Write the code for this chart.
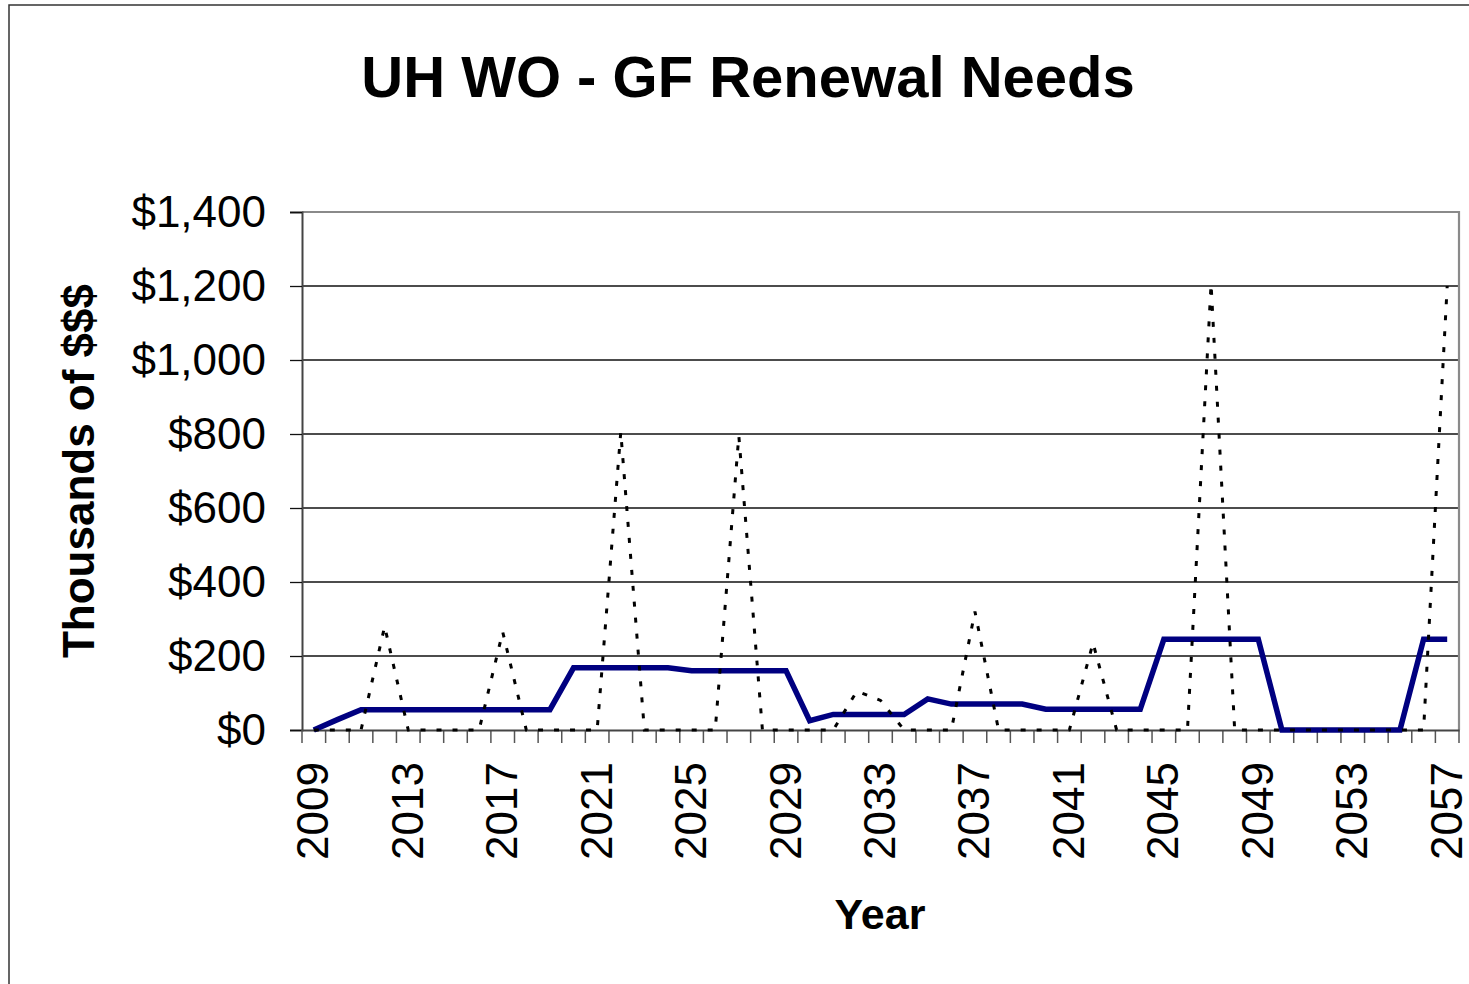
<!DOCTYPE html>
<html>
<head>
<meta charset="utf-8">
<script src="https://cdn.jsdelivr.net/npm/d3@7"></script>
<style>
  body { margin: 0; background: #fff; }
  #chart-area { width: 1469px; height: 984px; }
  text { font-family: "Liberation Sans", Arial, sans-serif; fill: #000; }
</style>
</head>
<body>
<div id="chart-area"></div>
<script>
// categories (one per year)
const years = [
  2009, 2010, 2011, 2012, 2013, 2014, 2015, 2016, 2017, 2018,
  2019, 2020, 2021, 2022, 2023, 2024, 2025, 2026, 2027, 2028,
  2029, 2030, 2031, 2032, 2033, 2034, 2035, 2036, 2037, 2038,
  2039, 2040, 2041, 2042, 2043, 2044, 2045, 2046, 2047, 2048,
  2049, 2050, 2051, 2052, 2053, 2054, 2055, 2056, 2057
];

// solid navy series (thousands of $)
const averageNeeds = [
  0, 28, 55, 55, 55, 55, 55, 55, 55, 55,
  55, 168, 168, 168, 168, 168, 160, 160, 160, 160,
  160, 25, 42, 42, 42, 42, 84, 70, 70, 70,
  70, 56, 56, 56, 56, 56, 245, 245, 245, 245,
  245, 0, 0, 0, 0, 0, 0, 245, 245
];

// dotted black series (thousands of $)
const annualNeeds = [
  0, 0, 0, 280, 0, 0, 0, 0, 265, 0,
  0, 0, 0, 805, 0, 0, 0, 0, 795, 0,
  0, 0, 0, 105, 80, 0, 0, 0, 320, 0,
  0, 0, 0, 235, 0, 0, 0, 0, 1205, 0,
  0, 0, 0, 0, 0, 0, 0, 0, 1200
];

const yTicks = [0, 200, 400, 600, 800, 1000, 1200, 1400];
const xLabelYears = [2009, 2013, 2017, 2021, 2025, 2029, 2033, 2037, 2041, 2045, 2049, 2053, 2057];

class RenewalChart {
  constructor(parentElement) {
    this.parentElement = parentElement;
  }

  initVis() {
    let vis = this;

    vis.plot = { left: 302, right: 1459, top: 212, bottom: 730 };

    vis.svg = d3
      .select("#" + vis.parentElement)
      .append("svg")
      .attr("width", 1469)
      .attr("height", 984);

    // outer chart border
    vis.svg
      .append("rect")
      .attr("x", 9)
      .attr("y", 5)
      .attr("width", 1500)
      .attr("height", 1020)
      .attr("fill", "#fff")
      .attr("stroke", "#333")
      .attr("stroke-width", 1.5);

    vis.x = d3
      .scaleBand()
      .domain(years)
      .range([vis.plot.left, vis.plot.right])
      .padding(0);

    vis.y = d3
      .scaleLinear()
      .domain([0, 1400])
      .range([vis.plot.bottom, vis.plot.top]);

    vis.svg
      .append("text")
      .attr("x", 748)
      .attr("y", 97)
      .attr("text-anchor", "middle")
      .attr("font-size", "58px")
      .attr("font-weight", "bold")
      .text("UH WO - GF Renewal Needs");

    vis.svg
      .append("text")
      .attr("x", 880)
      .attr("y", 929)
      .attr("text-anchor", "middle")
      .attr("font-size", "43px")
      .attr("font-weight", "bold")
      .text("Year");

    vis.svg
      .append("text")
      .attr("transform", "translate(94,471) rotate(-90)")
      .attr("text-anchor", "middle")
      .attr("font-size", "44px")
      .attr("font-weight", "bold")
      .text("Thousands of $$$");

    vis.updateVis();
  }

  updateVis() {
    let vis = this;
    let half = vis.x.bandwidth() / 2;

    // gridlines
    vis.svg
      .append("g")
      .selectAll("line")
      .data(yTicks.filter(function (d) {
        return d > 0 && d < 1400;
      }))
      .enter()
      .append("line")
      .attr("x1", vis.plot.left)
      .attr("x2", vis.plot.right)
      .attr("y1", function (d) { return vis.y(d); })
      .attr("y2", function (d) { return vis.y(d); })
      .attr("stroke", "#111")
      .attr("stroke-width", 1.3);

    // plot area border (top + right)
    vis.svg
      .append("path")
      .attr(
        "d",
        "M" + vis.plot.left + "," + vis.y(1400) +
        "H" + vis.plot.right + "V" + vis.y(0)
      )
      .attr("fill", "none")
      .attr("stroke", "#8a8a8a")
      .attr("stroke-width", 2.2);

    // y axis
    let yAxis = d3
      .axisLeft(vis.y)
      .tickValues(yTicks)
      .tickSize(12)
      .tickPadding(24)
      .tickFormat(function (d) {
        return "$" + d3.format(",")(d);
      });

    let yG = vis.svg
      .append("g")
      .attr("transform", "translate(" + vis.plot.left + ",0)")
      .call(yAxis);
    yG.select(".domain").attr("stroke", "#444").attr("stroke-width", 2);
    yG.selectAll(".tick line").attr("stroke", "#111").attr("stroke-width", 1.3);
    yG.selectAll(".tick text")
      .attr("font-size", "44px")
      .attr("font-family", "'Liberation Sans', Arial, sans-serif")
      .attr("fill", "#000");

    // x tick marks at category boundaries
    let boundaries = years.concat([null]);
    vis.svg
      .append("g")
      .selectAll("line")
      .data(boundaries)
      .enter()
      .append("line")
      .attr("x1", function (d) {
        return d === null ? vis.plot.right : vis.x(d);
      })
      .attr("x2", function (d) {
        return d === null ? vis.plot.right : vis.x(d);
      })
      .attr("y1", vis.plot.bottom)
      .attr("y2", vis.plot.bottom + 13)
      .attr("stroke", "#555")
      .attr("stroke-width", 1.5);

    // x axis line + labels
    let xAxis = d3
      .axisBottom(vis.x)
      .tickValues(xLabelYears)
      .tickSize(0)
      .tickPadding(0);

    let xG = vis.svg
      .append("g")
      .attr("transform", "translate(0," + vis.plot.bottom + ")")
      .call(xAxis);
    xG.select(".domain").attr("stroke", "#444").attr("stroke-width", 2);
    xG.selectAll(".tick text")
      .attr("font-size", "44px")
      .attr("font-family", "'Liberation Sans', Arial, sans-serif")
      .attr("fill", "#000")
      .attr("text-anchor", "end")
      .attr("transform", "translate(0,32) rotate(-90)")
      .attr("x", 0)
      .attr("y", 0)
      .attr("dy", "0.33em");

    let rows = years.map(function (yr, i) {
      return { year: yr, avg: averageNeeds[i], annual: annualNeeds[i] };
    });

    let avgLine = d3
      .line()
      .x(function (d) { return vis.x(d.year) + half; })
      .y(function (d) { return vis.y(d.avg); });

    let annualLine = d3
      .line()
      .x(function (d) { return vis.x(d.year) + half; })
      .y(function (d) { return vis.y(d.annual); });

    vis.svg
      .append("path")
      .datum(rows)
      .attr("d", avgLine)
      .attr("fill", "none")
      .attr("stroke", "#000080")
      .attr("stroke-width", 5.5)
      .attr("stroke-linejoin", "miter");

    vis.svg
      .append("path")
      .datum(rows)
      .attr("d", annualLine)
      .attr("fill", "none")
      .attr("stroke", "#000")
      .attr("stroke-width", 3)
      .attr("stroke-dasharray", "5,11");
  }
}

let chart = new RenewalChart("chart-area");
chart.initVis();
</script>
</body>
</html>
